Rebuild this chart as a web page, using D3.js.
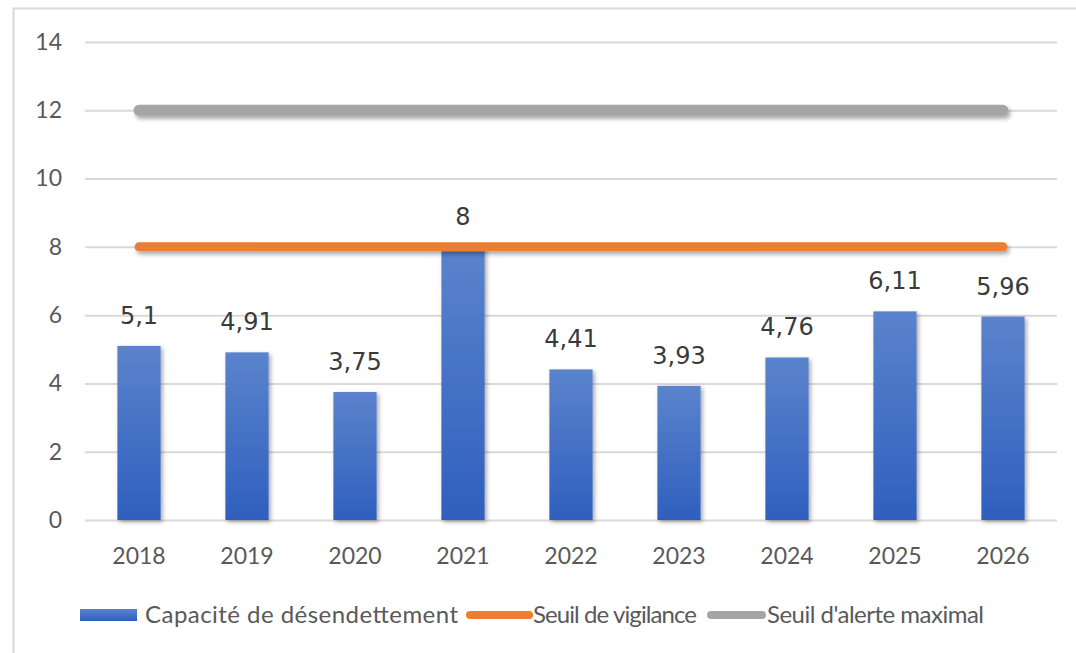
<!DOCTYPE html>
<html>
<head>
<meta charset="utf-8">
<script src="https://cdn.jsdelivr.net/npm/d3@7"></script>
<style>
  body { margin: 0; background: #fff; }
  svg { display: block; }
</style>
</head>
<body>
<div id="visContainer"></div>
<script>
const years = ["2018", "2019", "2020", "2021", "2022", "2023", "2024", "2025", "2026"];
const capacite = [5.1, 4.91, 3.75, 8, 4.41, 3.93, 4.76, 6.11, 5.96];
const seuilVigilance = [8, 8, 8, 8, 8, 8, 8, 8, 8];
const seuilAlerte = [12, 12, 12, 12, 12, 12, 12, 12, 12];
const yTicks = [0, 2, 4, 6, 8, 10, 12, 14];
const legendLabels = ["Capacité de désendettement", "Seuil de vigilance", "Seuil d'alerte maximal"];

const width = 1076;
const height = 653;
const margin = { top: 42, right: 19, bottom: 133, left: 85 };

const svg = d3.select("#visContainer")
  .append("svg")
  .attr("width", width)
  .attr("height", height);

const defs = svg.append("defs");
const grad = defs.append("linearGradient")
  .attr("id", "barGrad")
  .attr("x1", 0).attr("y1", 0).attr("x2", 0).attr("y2", 1);
grad.append("stop").attr("offset", "0%").attr("stop-color", "#5b83cc");
grad.append("stop").attr("offset", "100%").attr("stop-color", "#2f5fbe");

const shadow = defs.append("filter").attr("id", "shadow")
  .attr("x", "-20%").attr("y", "-20%").attr("width", "140%").attr("height", "160%");
shadow.append("feDropShadow")
  .attr("dx", 2).attr("dy", 2).attr("stdDeviation", 2)
  .attr("flood-color", "#000").attr("flood-opacity", 0.35);

// lines are flat, so the filter region has to be in user space
const lineShadow = defs.append("filter").attr("id", "lineShadow")
  .attr("filterUnits", "userSpaceOnUse")
  .attr("x", 0).attr("y", 0).attr("width", width).attr("height", height);
lineShadow.append("feDropShadow")
  .attr("dx", 2).attr("dy", 3).attr("stdDeviation", 2)
  .attr("flood-color", "#000").attr("flood-opacity", 0.35);

// frame
svg.append("path")
  .attr("d", `M13.5,${height} V8.5 H${width}`)
  .attr("fill", "none")
  .attr("stroke", "#d9d9d9")
  .attr("stroke-width", 2);

const x = d3.scaleBand()
  .domain(years)
  .range([margin.left, width - margin.right])
  .paddingInner(0.6)
  .paddingOuter(0.3);

const y = d3.scaleLinear()
  .domain([0, 14])
  .range([height - margin.bottom, margin.top]);

// gridlines
svg.append("g")
  .selectAll("line")
  .data(yTicks)
  .join("line")
  .attr("x1", margin.left)
  .attr("x2", width - margin.right)
  .attr("y1", d => y(d) + 0.5)
  .attr("y2", d => y(d) + 0.5)
  .attr("stroke", "#d9d9d9")
  .attr("stroke-width", 2);

// y axis labels
const yAxis = svg.append("g")
  .attr("transform", `translate(${margin.left - 23}, 0)`)
  .call(d3.axisLeft(y).tickValues(yTicks).tickSize(0).tickPadding(0));
yAxis.select(".domain").remove();
yAxis.selectAll("text")
  .attr("fill", "#595959")
  .style("font-family", "Lato, 'Open Sans', sans-serif")
  .style("font-size", "23px");

// x axis labels
const xAxis = svg.append("g")
  .attr("transform", `translate(0, ${height - margin.bottom + 28})`)
  .call(d3.axisBottom(x).tickSize(0).tickPadding(0));
xAxis.select(".domain").remove();
xAxis.selectAll("text")
  .attr("fill", "#595959")
  .style("font-family", "Lato, 'Open Sans', sans-serif")
  .style("font-size", "23px");

// bars
svg.append("g")
  .selectAll("rect")
  .data(capacite)
  .join("rect")
  .attr("x", (d, i) => x(years[i]))
  .attr("y", d => y(d))
  .attr("width", x.bandwidth())
  .attr("height", d => y(0) - y(d))
  .attr("fill", "url(#barGrad)")
  .attr("filter", "url(#shadow)");

// threshold lines
const line = d3.line()
  .x((d, i) => x(years[i]) + x.bandwidth() / 2)
  .y(d => y(d));

svg.append("path")
  .datum(seuilAlerte)
  .attr("d", line)
  .attr("fill", "none")
  .attr("stroke", "#a5a5a5")
  .attr("stroke-width", 11)
  .attr("stroke-linecap", "round")
  .attr("filter", "url(#lineShadow)");

svg.append("path")
  .datum(seuilVigilance)
  .attr("d", line)
  .attr("fill", "none")
  .attr("stroke", "#ed7d31")
  .attr("stroke-width", 9)
  .attr("stroke-linecap", "round")
  .attr("filter", "url(#lineShadow)");

// data labels
svg.append("g")
  .selectAll("text")
  .data(capacite)
  .join("text")
  .attr("x", (d, i) => x(years[i]) + x.bandwidth() / 2)
  .attr("y", d => y(d) - 22)
  .attr("text-anchor", "middle")
  .attr("fill", "#3a3a3a")
  .style("font-family", "'DejaVu Sans', sans-serif")
  .style("font-size", "24px")
  .text(d => String(d).replace(".", ","));

// legend
const legend = svg.append("g")
  .style("font-family", "Lato, 'Open Sans', sans-serif")
  .style("font-size", "24px")
  .attr("fill", "#595959");

const ly = 615;
legend.append("rect")
  .attr("x", 80).attr("y", ly - 6)
  .attr("width", 57).attr("height", 12)
  .attr("fill", "url(#barGrad)");
legend.append("text").attr("x", 145).attr("y", ly + 8)
  .attr("textLength", 313).attr("lengthAdjust", "spacing")
  .text(legendLabels[0]);

legend.append("line")
  .attr("x1", 470).attr("x2", 529)
  .attr("y1", ly).attr("y2", ly)
  .attr("stroke", "#ed7d31").attr("stroke-width", 8)
  .attr("stroke-linecap", "round");
legend.append("text").attr("x", 533).attr("y", ly + 8)
  .attr("textLength", 164).attr("lengthAdjust", "spacing")
  .text(legendLabels[1]);

legend.append("line")
  .attr("x1", 711).attr("x2", 762)
  .attr("y1", ly).attr("y2", ly)
  .attr("stroke", "#a5a5a5").attr("stroke-width", 8)
  .attr("stroke-linecap", "round");
legend.append("text").attr("x", 767).attr("y", ly + 8)
  .attr("textLength", 217).attr("lengthAdjust", "spacing")
  .text(legendLabels[2]);
</script>
</body>
</html>
